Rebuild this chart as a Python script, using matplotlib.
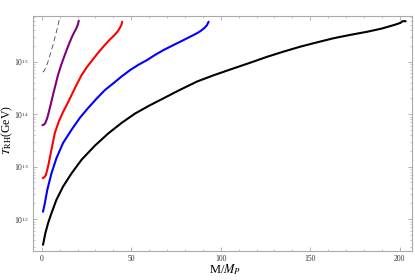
import matplotlib.pyplot as plt
from matplotlib.ticker import MultipleLocator, LogLocator, NullFormatter

plt.rcParams['font.family'] = ['Liberation Serif', 'DejaVu Serif']
plt.rcParams['mathtext.fontset'] = 'stix'

# curves: M/M_P and T_RH in GeV
black_m = [0.7, 2.0, 3.5, 5.4, 8.2, 11.9, 16.6, 22.2, 29.7, 37.1, 44.5, 52, 60, 68, 77, 86.7,
           96, 107, 116.5, 126, 135, 144.5, 154, 163, 172.5, 182, 190, 197, 200.5, 201.5, 203.3]
black_t = [3.24e11, 5.37e11, 8.32e11, 1.29e12, 2.34e12, 4.17e12, 7.41e12, 1.35e13, 2.51e13, 4.27e13,
           6.76e13, 1.02e14, 1.45e14, 2.0e14, 2.88e14, 4.17e14, 5.5e14, 7.41e14, 9.55e14, 1.24e15,
           1.55e15, 1.93e15, 2.34e15, 2.79e15, 3.24e15, 3.72e15, 4.27e15, 5.01e15, 5.5e15, 5.89e15, 5.89e15]

blue_m = [0.7, 1.7, 3.1, 5.4, 8.2, 11.9, 16.6, 21.3, 26, 30.8, 35.3, 40.1, 44.7, 49.4, 54, 58.8,
          63.4, 68, 72.7, 77.4, 82, 86.7, 89, 90.8, 92.2, 93.2]
blue_t = [1.38e12, 2.0e12, 3.63e12, 7.41e12, 1.45e13, 2.82e13, 5.01e13, 8.51e13, 1.32e14, 2.0e14,
          2.88e14, 3.89e14, 5.25e14, 6.92e14, 8.71e14, 1.07e15, 1.35e15, 1.66e15, 2.0e15, 2.40e15,
          2.88e15, 3.47e15, 3.89e15, 4.37e15, 4.90e15, 5.75e15]

red_m = [0.5, 1.5, 2.3, 3.5, 5.4, 7.3, 9.5, 11.9, 14, 16.6, 19.3, 22.2, 25.3, 28.7, 32, 35.3,
         38, 40.8, 42.5, 43.6, 44.5, 44.9]
red_t = [6.03e12, 6.31e12, 6.92e12, 1.0e13, 2.09e13, 4.37e13, 7.24e13, 1.10e14, 1.51e14, 2.29e14,
         3.55e14, 5.5e14, 7.94e14, 1.12e15, 1.55e15, 2.09e15, 2.63e15, 3.24e15, 3.80e15, 4.37e15,
         5.01e15, 5.75e15]

purple_m = [0.35, 1.2, 2.0, 2.8, 3.5, 4.9, 6.3, 7.7, 9.1, 11, 12.9, 14.8, 16.6, 18, 19.4, 20.2, 20.7]
purple_t = [6.17e13, 6.31e13, 6.76e13, 7.94e13, 9.55e13, 1.48e14, 2.34e14, 3.63e14, 5.62e14, 8.91e14,
            1.35e15, 2.0e15, 2.82e15, 3.55e15, 4.37e15, 5.13e15, 6.03e15]

dashed_m = [0.5, 1.3, 2.4, 3.5, 4.9, 6.3, 7.3, 8.2, 9.0, 9.7]
dashed_t = [6.31e14, 6.61e14, 7.94e14, 1.0e15, 1.45e15, 2.09e15, 2.82e15, 3.72e15, 4.79e15, 6.17e15]

fig = plt.figure(figsize=(4.15, 2.8), dpi=100)
ax = fig.add_axes([0.0795, 0.105, 0.914, 0.838])

ax.plot(black_m, black_t, color='black', lw=1.5, solid_capstyle='round')
ax.plot(blue_m, blue_t, color='blue', lw=1.5, solid_capstyle='round')
ax.plot(red_m, red_t, color='red', lw=1.5, solid_capstyle='round')
ax.plot(purple_m, purple_t, color='#800080', lw=1.5, solid_capstyle='round')
ax.plot(dashed_m, dashed_t, color='#444444', lw=0.6, ls=(0, (6, 4)))

ax.set_yscale('log')
ax.set_xlim(-4.9, 207)
ax.set_ylim(10**11.4, 10**15.87)

ax.xaxis.set_major_locator(MultipleLocator(50))
ax.xaxis.set_minor_locator(MultipleLocator(10))
ax.yaxis.set_major_locator(LogLocator(base=10))
ax.yaxis.set_minor_locator(LogLocator(base=10, subs=range(2, 10)))
ax.yaxis.set_minor_formatter(NullFormatter())

for s in ax.spines.values():
    s.set_color('#aaaaaa')
    s.set_linewidth(0.8)
ax.tick_params(which='both', direction='in', top=True, right=True, color='#999999',
               labelsize=5.5, labelcolor='#333333', pad=3)
ax.tick_params(which='major', length=3, width=0.5)
ax.tick_params(which='minor', length=1.6, width=0.4)

fig.text(0.542, 0.038, r'M/$M_P$', fontsize=9, ha='center', va='center')
fig.text(0.018, 0.535, r'$T_{\rm RH}$(GeV)', fontsize=8.5, ha='center', va='center', rotation=90)

plt.savefig('out.png', dpi=100)
